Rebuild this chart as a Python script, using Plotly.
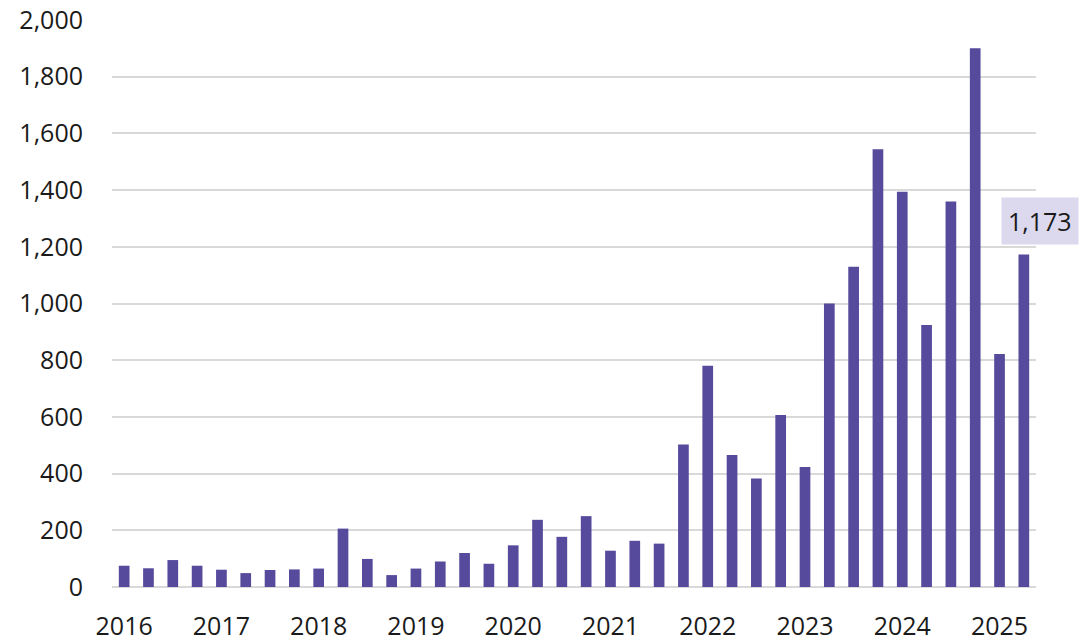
import plotly.graph_objects as go

# Quarterly counts, 2016 Q1 to 2025 Q2
quarters = [f"{y} Q{q}" for y in range(2016, 2026) for q in range(1, 5)][:38]
values = [
    75, 66, 95, 75,
    61, 49, 60, 62,
    65, 206, 99, 42,
    65, 90, 120, 82,
    147, 237, 177, 250,
    128, 163, 153, 503,
    780, 466, 383, 607,
    423, 1000, 1130, 1544,
    1394, 924, 1360, 1900,
    822, 1173,
]
year_ticks = [f"{y} Q1" for y in range(2016, 2026)]
year_labels = [str(y) for y in range(2016, 2026)]
y_ticks = list(range(0, 2001, 200))
y_tick_labels = [f"{v:,}" for v in y_ticks]

BAR = "#564a9c"
FONT = "Open Sans"

fig = go.Figure(
    go.Bar(
        x=quarters,
        y=values,
        marker=dict(color=BAR, line=dict(width=0)),
        hovertemplate="%{x}: %{y:,}<extra></extra>",
    )
)

# Highlight the latest quarter's value
fig.add_annotation(
    x=quarters[-1],
    y=values[-1],
    text=f"{values[-1]:,}",
    showarrow=False,
    yanchor="bottom",
    yshift=9,
    xshift=16,
    bgcolor="#dcd8ee",
    borderpad=6,
    font=dict(family=FONT, size=25, color="#1a1a1a"),
)

fig.update_layout(
    width=1081,
    height=641,
    margin=dict(l=112, r=45, t=20, b=54, autoexpand=False),
    paper_bgcolor="white",
    plot_bgcolor="white",
    bargap=0.56,
    showlegend=False,
    font=dict(family=FONT, size=25, color="#1a1a1a"),
)
fig.update_xaxes(
    type="category",
    range=[-0.5, len(quarters) - 0.5],
    tickmode="array",
    tickvals=year_ticks,
    ticktext=year_labels,
    showgrid=False,
    showline=False,
    ticks="",
    automargin=False,
    ticklabelstandoff=22,
    tickfont=dict(family=FONT, size=25, color="#1a1a1a"),
)
fig.update_yaxes(
    range=[0, 2000],
    tickmode="array",
    tickvals=y_ticks,
    ticktext=y_tick_labels,
    showgrid=True,
    gridcolor="#d9d9d9",
    gridwidth=2,
    zeroline=True,
    zerolinecolor="#d9d9d9",
    zerolinewidth=2,
    showline=False,
    ticks="",
    automargin=False,
    ticklabelstandoff=28,
    tickfont=dict(family=FONT, size=25, color="#1a1a1a"),
)

fig.write_html("out.html")
